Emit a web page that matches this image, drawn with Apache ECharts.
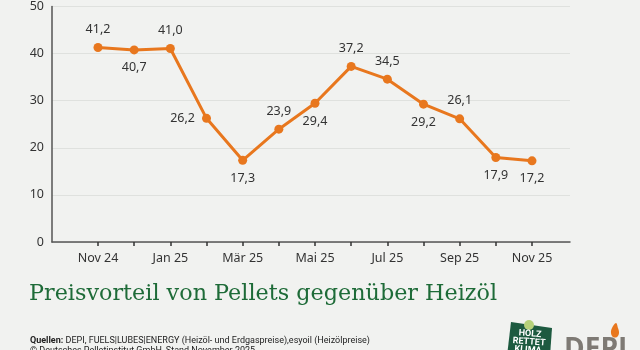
<!DOCTYPE html>
<html><head><meta charset="utf-8">
<script src="https://cdn.jsdelivr.net/npm/echarts@6/dist/echarts.min.js"></script>
<style>html,body{margin:0;padding:0;background:#f1f2f0;}#c{width:640px;height:350px;}</style>
</head><body><div id="c"></div>
<script>
var months = ['Nov 24','Dez 24','Jan 25','Feb 25','Mär 25','Apr 25','Mai 25','Jun 25','Jul 25','Aug 25','Sep 25','Okt 25','Nov 25'];
var values = [41.2, 40.7, 41.0, 26.2, 17.3, 23.9, 29.4, 37.2, 34.5, 29.2, 26.1, 17.9, 17.2];
var labelPos = ['top','bottom','top','left','bottom','top','bottom','top','top','bottom','top','bottom','bottom'];
var yTicks = [0, 10, 20, 30, 40, 50];
var titleText = 'Preisvorteil von Pellets gegenüber Heizöl';
var sourceText = 'DEPI, FUELS|LUBES|ENERGY (Heizöl- und Erdgaspreise),esyoil (Heizölpreise)';
var copyText = '© Deutsches Pelletinstitut GmbH, Stand November 2025';

var fmt = function (v) { return v.toFixed(1).replace('.', ','); };
var font = 'Noto Sans';
var chart = echarts.init(document.getElementById('c'));
chart.setOption({
  backgroundColor: '#f1f2f0',
  animation: false,
  grid: [
    {left: 52, right: 70, top: 6, bottom: 108},
    {left: 98, right: 108, top: 6, bottom: 108}
  ],
  xAxis: [
    {gridIndex: 0, type: 'value', min: 0, max: 1, axisLine: {show: true, lineStyle: {color: '#555', width: 1.5}},
     axisTick: {show: false}, axisLabel: {show: false}, splitLine: {show: false}},
    {gridIndex: 1, type: 'category', data: months, boundaryGap: false,
     axisLine: {show: false}, axisTick: {show: true, interval: 0, length: 4, lineStyle: {color: '#333', width: 1.5}},
     axisLabel: {interval: 1, margin: 10, color: '#333', fontFamily: font, fontSize: 12.5}}
  ],
  yAxis: [
    {gridIndex: 0, type: 'value', min: yTicks[0], max: yTicks[yTicks.length - 1], interval: 10,
     axisLine: {show: true, lineStyle: {color: '#555', width: 1.5}}, axisTick: {show: false},
     axisLabel: {margin: 8, color: '#333', fontFamily: font, fontSize: 12.5},
     splitLine: {show: true, lineStyle: {color: '#dfe1de', width: 1}}},
    {gridIndex: 1, type: 'value', min: yTicks[0], max: yTicks[yTicks.length - 1], show: false}
  ],
  series: [{
    type: 'line', xAxisIndex: 1, yAxisIndex: 1,
    data: values.map(function (v, i) { return {value: v, label: {position: labelPos[i]}}; }),
    symbol: 'circle', symbolSize: 9,
    lineStyle: {color: '#e8771e', width: 3},
    itemStyle: {color: '#e8771e'},
    label: {show: true, distance: 7, color: '#333', fontFamily: font, fontSize: 12.5,
            formatter: function (p) { return fmt(p.value); }}
  }],
  graphic: [
    {type: 'text', left: 29, top: 283, style: {text: titleText, fill: '#1e6b38', font: '22.3px "DejaVu Serif"'}},
    {type: 'text', left: 30, top: 336, style: {
      text: '{b|Quellen:} ' + sourceText,
      rich: {b: {fontWeight: 'bold', fontFamily: 'Roboto', fontSize: 9, fill: '#222'}},
      fill: '#222', font: '9px Roboto'}},
    {type: 'text', left: 30, top: 346, style: {text: copyText, fill: '#222', font: '9px Roboto'}},
    {type: 'polygon', shape: {points: [[511, 322], [552, 328], [550, 356], [507, 356]]}, style: {fill: '#1d5a40'}},
    {type: 'circle', shape: {cx: 529, cy: 325, r: 5}, style: {fill: '#b6d17a'}},
    {type: 'text', x: 530, y: 334, rotation: -0.08, style: {text: 'HOLZ', fill: '#fff', font: 'bold 9px Roboto', align: 'center', verticalAlign: 'middle'}},
    {type: 'text', x: 529, y: 342, rotation: -0.08, style: {text: 'RETTET', fill: '#fff', font: 'bold 9px Roboto', align: 'center', verticalAlign: 'middle'}},
    {type: 'text', x: 528, y: 350, rotation: -0.08, style: {text: 'KLIMA', fill: '#fff', font: 'bold 9px Roboto', align: 'center', verticalAlign: 'middle'}},
    {type: 'text', left: 564, top: 336, style: {text: 'DEPI', fill: '#7e7a74', font: 'bold 28px "Open Sans"'}},
    {type: 'polygon', shape: {points: [[616, 323], [612, 328], [611, 333], [613, 337], [617, 337], [619, 333], [618, 328]], smooth: 0.4}, style: {fill: '#e8771e'}}
  ]
});
</script></body></html>
